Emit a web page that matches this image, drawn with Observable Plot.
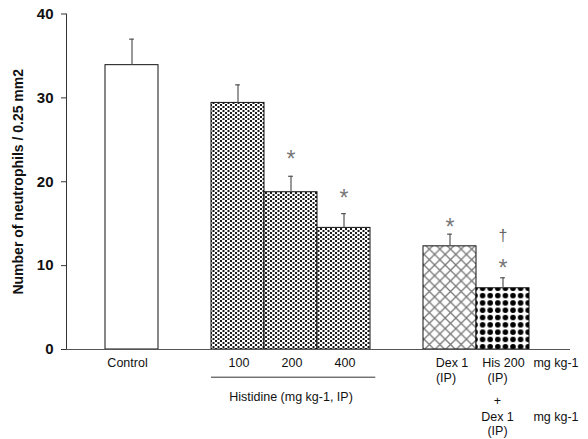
<!DOCTYPE html>
<html><head><meta charset="utf-8">
<script src="https://cdn.jsdelivr.net/npm/d3@7"></script>
<script src="https://cdn.jsdelivr.net/npm/@observablehq/plot@0.6"></script>
<style>body{margin:0;background:#fff;} svg{display:block}</style>
</head><body><div id="chart"></div>
<script>
// ---- data ----
const categories = ["Control", "100", "200", "400", "Dex 1", "His 200"];
const treatments = ["control", "histidine", "histidine", "histidine", "dex", "combo"];
const means = [33.9, 29.4, 18.75, 14.5, 12.3, 7.3];
const sems = [3.1, 2.15, 1.9, 1.7, 1.45, 1.25];
const markCategories = ["200", "400", "Dex 1", "His 200", "His 200"];
const markSymbols = ["*", "*", "*", "*", "†"];
const markLevels = [23.4, 18.75, 15.2, 10.4, 13.6];
const yTicks = [0, 10, 20, 30, 40];
const slots = ["Control", "gap-a", "100", "200", "400", "gap-b", "Dex 1", "His 200", "unit"];
const doseLabels = ["Control", "100", "200", "400"];
const dexLines = ["Dex 1", "(IP)"];
const comboLines = ["His 200", "(IP)", "+", "Dex 1", "(IP)"];
const unitLabel = "mg kg-1";
const groupLabel = "Histidine (mg kg-1, IP)";
const yLabel = "Number of neutrophils / 0.25 mm2";

// ---- layout ----
const W = 588, H = 439, mL = 66, mR = 18, mT = 13.5, mB = 90;
const slotPx = 53, firstSlotLeft = 105;
const x0 = -0.5 - (firstSlotLeft - mL) / slotPx;
const x1 = x0 + (W - mL - mR) / slotPx;
const slotOf = c => slots.indexOf(c);

const bars = categories.map((c, i) => ({
  category: c, slot: slotOf(c), treatment: treatments[i], mean: means[i], sem: sems[i]
}));
const marks = markCategories.map((c, i) => ({slot: slotOf(c), symbol: markSymbols[i], level: markLevels[i]}));

const fills = {control: "white", histidine: "url(#pat-his)", dex: "url(#pat-dex)", combo: "url(#pat-combo)"};
const barMarks = Object.keys(fills).map(t =>
  Plot.rect(bars.filter(d => d.treatment === t), {
    x1: d => d.slot - 0.5, x2: d => d.slot + 0.5, y1: d => 0, y2: "mean",
    fill: fills[t], stroke: "#111", strokeWidth: 1
  })
);

const rowText = (items, opts) => Plot.text(items, {x: d => d.slot, y: d => 0, text: "t", fontSize: 12.5, fill: "#111", ...opts});
const rowDy = [13, 28, 51, 67.5, 81.5];

const plot = Plot.plot({
  width: W, height: H,
  marginLeft: mL, marginRight: mR, marginTop: mT, marginBottom: mB,
  style: {fontFamily: "'Liberation Sans', Arial, sans-serif", fontSize: "12px", background: "white"},
  x: {type: "linear", domain: [x0, x1], axis: null},
  y: {domain: [0, 40], axis: null},
  marks: [
    ...barMarks,
    Plot.ruleX(bars, {x: "slot", y1: "mean", y2: d => d.mean + d.sem, stroke: "#555", strokeWidth: 1.2}),
    Plot.ruleY(bars, {y: d => d.mean + d.sem, x1: d => d.slot - 0.045, x2: d => d.slot + 0.045, stroke: "#555", strokeWidth: 1.2}),
    Plot.ruleY([0], {stroke: "#555", strokeWidth: 1}),
    Plot.ruleX([x0], {stroke: "#333", strokeWidth: 1}),
    Plot.axisY(yTicks, {tickSize: 5, tickPadding: 8, fontWeight: "bold", fontSize: 15, label: null, stroke: "#333", fill: "#111"}),
    Plot.text([yLabel], {frameAnchor: "left", textAnchor: "middle", rotate: -90, dx: -48, text: d => d, fontWeight: "bold", fontSize: 14, fill: "#111"}),
    Plot.text(marks.filter(d => d.symbol === "*"), {x: "slot", y: "level", text: "symbol", fontSize: 23, fill: "#777", dy: 6}),
    Plot.text(marks.filter(d => d.symbol !== "*"), {x: "slot", y: "level", text: "symbol", fontSize: 16, fill: "#666"}),
    // category labels
    rowText([{slot: slotOf("Control"), t: doseLabels[0]}], {dy: rowDy[0], dx: -4.5}),
    rowText(doseLabels.slice(1).map(t => ({slot: slotOf(t), t})), {dy: rowDy[0], dx: 1}),
    rowText([{slot: slotOf("Dex 1"), t: dexLines[0]}], {dy: rowDy[0], dx: 2}),
    rowText([{slot: slotOf("Dex 1"), t: dexLines[1]}], {dy: rowDy[1], dx: -4}),
    rowText([{slot: slotOf("His 200"), t: comboLines[0]}], {dy: rowDy[0], dx: 0.5}),
    ...comboLines.slice(1).map((t, i) => rowText([{slot: slotOf("His 200"), t}], {dy: rowDy[i + 1], dx: -5.5})),
    rowText([{slot: slotOf("unit"), t: unitLabel}], {dy: rowDy[0]}),
    rowText([{slot: slotOf("unit"), t: unitLabel}], {dy: rowDy[3]}),
    // histidine group bracket
    Plot.ruleY([0], {x1: d => slotOf("100") - 0.5, x2: d => slotOf("400") + 0.6, dy: 27.7, stroke: "#333", strokeWidth: 1}),
    rowText([{slot: slotOf("200"), t: groupLabel}], {dy: 47})
  ]
});

d3.select(plot).insert("defs", ":first-child").html(`
  <pattern id="pat-his" width="5" height="4" patternUnits="userSpaceOnUse">
    <rect width="5" height="4" fill="white"/>
    <rect x="0" y="0" width="2" height="2" fill="#1a1a1a"/>
    <rect x="2.5" y="2" width="2" height="2" fill="#1a1a1a"/>
  </pattern>
  <pattern id="pat-dex" width="10.6" height="10.6" patternUnits="userSpaceOnUse">
    <rect width="10.6" height="10.6" fill="white"/>
    <path d="M0,0L10.6,10.6M10.6,0L0,10.6" stroke="#777" stroke-width="1.3"/>
  </pattern>
  <pattern id="pat-combo" width="7.6" height="7.3" patternUnits="userSpaceOnUse">
    <rect width="7.6" height="7.3" fill="white"/>
    <circle cx="3.8" cy="3.65" r="2.8" fill="black"/>
  </pattern>
`);

document.getElementById("chart").appendChild(plot);
</script>
</body></html>
